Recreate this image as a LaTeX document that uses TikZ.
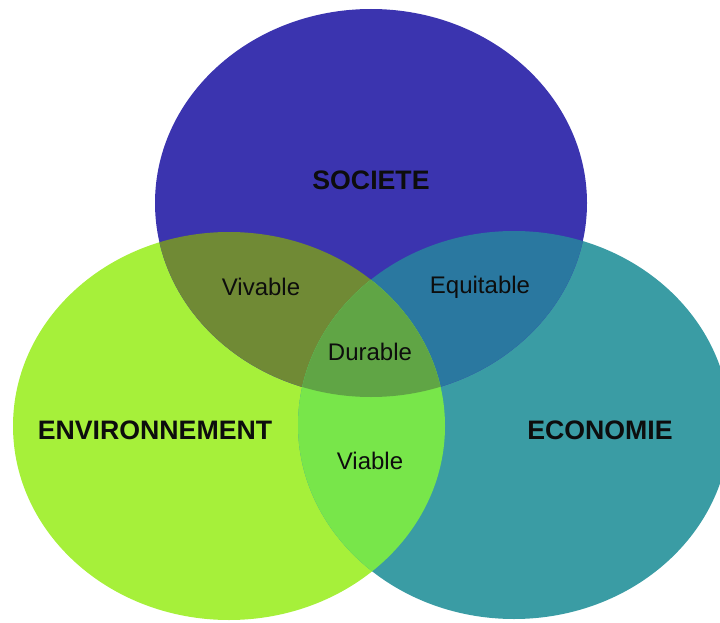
\documentclass[tikz,border=0pt]{standalone}
\usepackage{fontspec}
\setmainfont{Liberation Sans}

\definecolor{societe}{RGB}{59,52,175}
\definecolor{environ}{RGB}{166,240,58}
\definecolor{economie}{RGB}{58,156,164}
\definecolor{vivable}{RGB}{112,138,53}
\definecolor{equitable}{RGB}{42,120,160}
\definecolor{viable}{RGB}{120,230,74}
\definecolor{durable}{RGB}{96,165,69}

\def\soc{(371,203) ellipse [x radius=216, y radius=194]}
\def\env{(229,426) ellipse [x radius=216, y radius=194]}
\def\eco{(514,425) ellipse [x radius=216, y radius=194]}

\begin{document}
\begin{tikzpicture}[x=1pt, y=-1pt,
	pole/.style = {font=\fontsize{26.7}{30}\selectfont\bfseries, text=black!95},
	zone/.style = {font=\fontsize{24}{28}\selectfont, text=black!95},]
		\useasboundingbox (0,0) rectangle (720,623);

		\fill[environ] \env;
		\fill[economie] \eco;
		\fill[societe] \soc;

		\begin{scope}
			\clip \soc;
			\fill[vivable] \env;
			\fill[equitable] \eco;
		\end{scope}
		\begin{scope}
			\clip \env;
			\fill[viable] \eco;
		\end{scope}
		\begin{scope}
			\clip \soc;
			\clip \env;
			\fill[durable] \eco;
		\end{scope}

		\node[pole] (S) at (371,180) {SOCIETE};
		\node[pole] (N) at (155,430) {ENVIRONNEMENT};
		\node[pole] (C) at (600,430) {ECONOMIE};
		\node[zone] (VI) at (261,287) {Vivable};
		\node[zone] (EQ) at (480,287) {Equitable};
		\node[zone] (DU) at (370,352) {Durable};
		\node[zone] (VB) at (370,461) {Viable};
	\end{tikzpicture}
\end{document}
